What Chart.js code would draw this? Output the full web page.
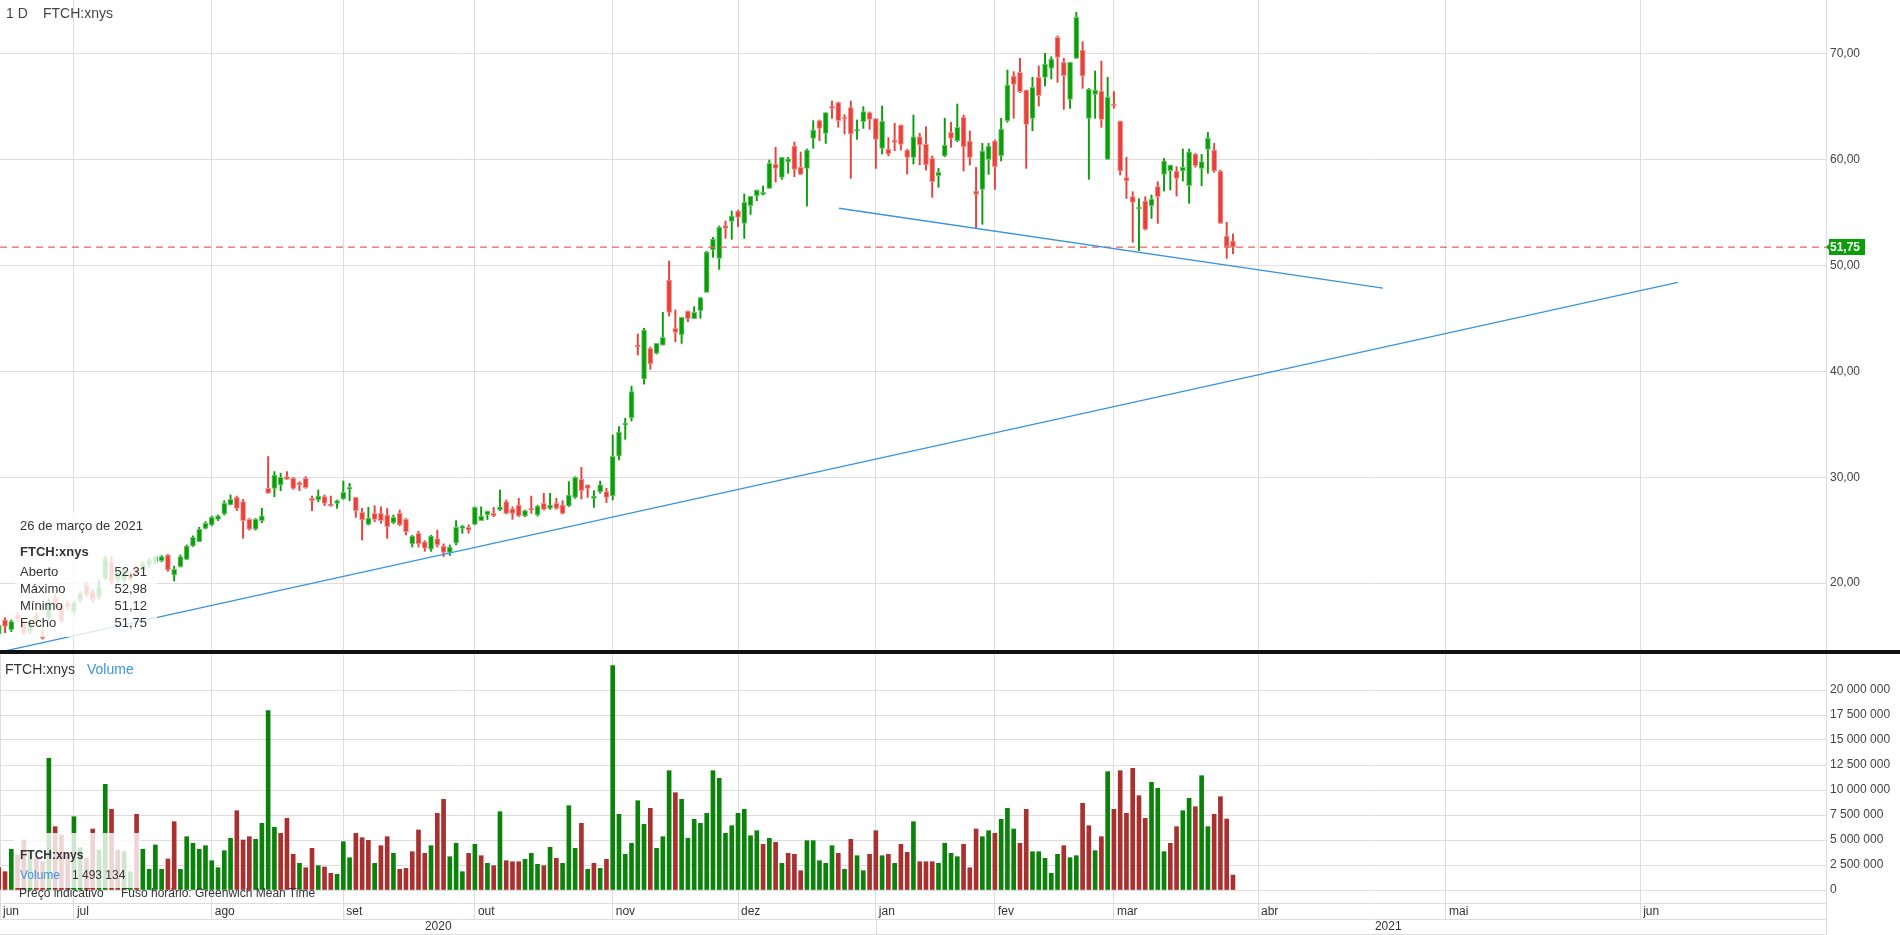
<!DOCTYPE html>
<html>
<head>
<meta charset="utf-8">
<script src="https://cdn.jsdelivr.net/npm/chart.js@4.4.1/dist/chart.umd.min.js"></script>
<style>
  body { margin: 0; background: #fff; font-family: "Liberation Sans", Arial, sans-serif; color: #333; }
  #wrap { position: relative; width: 1900px; height: 935px; overflow: hidden; }
  canvas { position: absolute; left: 0; }
  #price { top: 0; }
  #volume { top: 652px; }
  .sep { position: absolute; left: 0; top: 650px; width: 1900px; height: 4px; background: #111; }
  .t { position: absolute; white-space: nowrap; font-size: 14px; line-height: 16px; }
  .box { position: absolute; background: rgba(255,255,255,0.8); }
  .row { position: absolute; left: 5px; width: 127px; font-size: 13px; line-height: 16px; }
  .row span { position: absolute; right: 0; }
  .blue { color: #3d95d8; }
</style>
</head>
<body>
<div id="wrap">
  <canvas id="price" width="1900" height="652"></canvas>
  <canvas id="volume" width="1900" height="283"></canvas>
  <div class="sep"></div>

  <div class="t" style="left:6px;top:5px;color:#444">1 D</div>
  <div class="t" style="left:43px;top:5px;color:#444">FTCH:xnys</div>

  <div class="box" style="left:15px;top:512px;width:142px;height:125px">
    <div class="row" style="top:6px">26 de março de 2021</div>
    <div class="row" style="top:32px;font-weight:bold">FTCH:xnys</div>
    <div class="row" style="top:52px">Aberto<span>52,31</span></div>
    <div class="row" style="top:69px">Máximo<span>52,98</span></div>
    <div class="row" style="top:86px">Mínimo<span>51,12</span></div>
    <div class="row" style="top:103px">Fecho<span>51,75</span></div>
  </div>

  <div class="t" style="left:5px;top:661px">FTCH:xnys</div>
  <div class="t blue" style="left:87px;top:661px">Volume</div>

  <div class="box" style="left:14px;top:833px;width:126px;height:55px">
    <div class="t" style="left:6px;top:14px;font-size:12px;font-weight:bold">FTCH:xnys</div>
    <div class="t blue" style="left:6px;top:34px;font-size:12px">Volume</div>
    <div class="t" style="left:58px;top:34px;font-size:12px">1 493 134</div>
  </div>
  <div class="t" style="left:19px;top:886px;font-size:12px;line-height:14px">Preço indicativo</div>
  <div class="t" style="left:121px;top:886px;font-size:12px;line-height:14px">Fuso horário: Greenwich Mean Time</div>
</div>

<script>
// first bar is index -1 (half hidden at the left edge), last one is 26 Mar 2021
const xStart = -1;

const openP = [
  15.2,16.5,15.6,17.0,16.2,15.4,16.9,15.0,16.7,18.55,
  17.8,18.1,17.3,18.4,19.8,19.2,18.7,20.4,22.0,20.3,
  20.3,20.85,21.4,21.2,21.7,22.0,22.12,22.65,20.76,21.55,
  22.24,23.5,23.9,25.17,25.48,26.02,26.53,27.38,28.1,27.69,
  26.02,25.08,25.9,28.95,28.95,29.27,30.05,29.9,29.49,29.9,
  28.0,27.85,28.16,27.47,27.53,27.94,28.86,28.1,26.68,25.55,
  26.58,26.58,26.43,25.7,26.58,26.02,23.7,24.7,23.9,23.2,
  24.2,23.5,22.9,23.8,25.17,25.26,25.55,25.9,26.43,26.58,
  26.9,27.69,27.02,27.37,26.33,27.06,26.43,27.53,27.06,27.53,
  27.37,27.28,28.1,29.8,29.27,27.99,28.64,28.64,28.22,32.0,
  34.94,35.6,42.49,39.3,42.18,41.71,42.49,48.64,44.07,43.44,
  45.71,44.98,45.74,47.47,51.47,50.68,53.77,54.18,55.16,53.99,
  55.66,56.61,56.73,57.3,59.6,58.34,59.79,61.3,59.29,59.19,
  62.03,63.7,62.5,65.08,65.4,64.01,64.93,62.75,63.6,64.45,
  63.89,61.08,61.02,61.87,63.29,60.92,60.23,62.18,61.49,60.13,
  58.5,60.36,62.59,61.8,64.01,61.77,57.05,57.2,60.04,61.77,
  60.39,63.69,67.92,68.26,66.59,63.92,67.79,67.79,68.64,71.57,
  69.21,65.71,69.59,70.37,63.92,66.18,66.5,60.04,65.27,63.66,
  58.31,56.51,55.38,56.1,55.66,57.46,58.62,58.97,58.94,58.94,
  57.55,60.54,59.19,60.99,60.92,58.94,52.79,52.31
];
const highP = [
  16.2,16.7,16.5,17.2,16.4,16.5,17.2,15.6,18.5,18.9,
  18.0,18.3,18.3,19.2,20.1,19.4,20.3,22.55,22.5,21.2,
  21.4,21.1,21.6,22.0,22.3,22.6,22.6,22.7,21.6,22.65,
  23.6,24.45,25.27,25.8,26.33,26.43,27.78,28.32,28.22,27.9,
  26.1,26.1,27.06,31.95,30.53,30.37,30.53,29.99,29.58,30.05,
  28.22,28.79,28.32,28.22,27.85,29.64,29.42,28.1,27.06,27.15,
  27.3,27.2,27.05,26.43,26.9,26.1,24.5,24.9,24.0,24.5,
  25.0,23.7,23.6,25.9,25.45,25.5,27.2,27.2,26.8,27.15,
  28.79,27.85,27.2,28.0,26.9,28.22,27.37,28.48,28.48,28.0,
  27.78,29.58,30.05,30.93,29.27,28.73,29.64,28.95,33.99,34.78,
  35.57,38.6,43.53,44.07,42.3,42.65,45.58,50.43,45.8,45.11,
  45.71,46.12,46.98,51.35,52.67,53.74,54.21,55.16,55.25,56.77,
  56.54,57.14,57.52,59.98,61.18,60.23,60.23,61.68,60.73,61.02,
  63.7,63.76,64.45,65.55,65.46,64.26,65.55,63.76,65.02,64.52,
  63.89,65.08,62.09,63.44,63.29,60.99,64.23,62.5,63.13,60.36,
  59.19,63.92,63.54,65.27,64.23,62.72,59.28,61.55,61.55,61.87,
  63.92,68.48,68.33,69.59,66.59,67.79,68.86,70.06,69.74,71.7,
  69.59,69.21,73.93,71.16,66.75,68.39,69.33,67.79,66.44,63.66,
  60.23,56.98,56.32,56.51,56.67,57.93,60.13,59.5,59.35,61.02,
  61.02,60.6,60.51,62.59,61.55,59.03,54.09,52.98
];
const lowP = [
  14.9,15.3,15.4,16.3,15.1,15.2,16.2,14.7,16.5,17.6,
  16.3,17.5,17.1,18.2,18.7,18.2,18.5,20.3,19.9,20.1,
  20.1,20.2,20.7,21.0,21.5,21.8,22.0,21.1,20.19,21.5,
  22.2,23.45,23.9,25.1,25.4,25.9,26.43,27.38,26.84,24.23,
  25.0,25.0,25.7,28.48,28.16,28.73,29.8,28.85,28.73,28.95,
  26.84,27.69,27.3,27.25,27.06,27.9,27.78,26.2,24.06,25.48,
  25.8,25.65,24.22,25.6,25.4,24.54,23.4,23.4,23.0,23.0,
  23.4,22.5,22.6,23.6,24.7,24.7,25.5,25.9,26.0,26.27,
  26.84,26.52,26.02,26.27,26.27,26.58,26.33,26.9,26.96,26.96,
  26.52,27.22,28.0,27.94,28.1,27.15,28.48,27.6,27.85,31.63,
  33.58,35.3,41.55,38.8,40.2,41.64,42.49,45.23,42.81,42.65,
  44.7,44.98,45.01,47.47,50.78,49.64,52.57,52.48,53.68,52.57,
  54.84,56.13,56.67,57.3,57.9,58.15,58.72,58.4,58.62,55.63,
  61.08,61.81,61.55,63.92,63.07,62.44,58.25,61.93,62.97,62.88,
  59.19,60.55,60.36,60.86,60.92,58.66,59.6,59.51,59.03,56.45,
  57.39,60.29,61.17,61.71,58.94,59.5,53.58,53.9,58.62,57.2,
  59.88,63.54,63.92,66.34,59.19,62.75,65.08,66.97,67.63,67.32,
  64.77,64.86,69.59,66.75,58.15,63.92,63.06,60.04,64.86,58.56,
  56.35,52.2,51.41,53.36,54.46,53.99,57.05,57.14,56.57,57.99,
  55.88,59.3,57.55,58.72,58.81,53.99,50.68,51.12
];
const closeP = [
  16.0,15.9,16.35,16.5,15.25,16.0,16.5,14.8,18.2,17.9,
  16.45,17.7,18.1,19.0,18.9,18.4,19.6,22.3,20.1,21.07,
  21.2,20.35,20.85,21.86,22.17,22.5,22.49,21.23,21.3,22.49,
  23.5,24.32,25.08,25.64,26.21,26.34,27.53,27.91,27.06,25.9,
  25.08,26.02,26.34,28.48,30.2,29.99,29.8,28.95,29.27,29.0,
  27.78,28.22,27.53,27.3,27.78,28.57,29.05,26.84,25.96,26.11,
  26.02,25.9,25.33,26.2,25.48,24.85,24.44,23.7,23.3,24.44,
  23.6,22.9,23.4,25.26,25.38,25.0,27.15,26.33,26.8,26.33,
  27.2,26.58,26.58,26.33,26.84,26.9,27.28,26.96,27.37,27.06,
  26.58,28.32,29.99,28.73,28.95,28.22,29.27,28.1,31.97,34.27,
  35.09,38.1,42.34,43.91,40.7,42.65,43.22,45.58,43.69,45.11,
  44.98,45.58,46.98,51.28,52.51,53.61,53.52,54.69,54.56,55.98,
  56.54,57.14,56.92,59.66,59.19,60.23,60.1,59.1,58.62,60.92,
  62.81,62.97,64.45,64.86,63.7,63.89,62.44,62.81,64.55,63.82,
  61.93,63.63,60.55,61.65,61.46,60.23,62.18,61.4,59.51,57.93,
  58.81,61.4,62.03,63.06,61.24,60.23,56.73,60.83,61.3,59.35,
  62.91,67.07,67.13,66.44,63.35,66.85,66.06,69.05,69.52,69.68,
  67.95,69.21,73.46,67.92,66.66,66.59,63.82,65.9,65.08,58.94,
  57.99,55.98,55.5,53.42,56.29,56.51,59.88,59.5,58.24,59.28,
  60.76,59.44,59.82,62.03,58.94,53.99,51.79,51.75
];

// volume in millions, g/r = colour of the volume bar
const volM = [
  2.23,1.83,4.07,3.5,5.0,3.67,3.17,2.83,13.17,6.33,
  5.5,3.5,7.33,4.23,3.17,6.1,4.0,10.57,8.07,4.0,
  3.83,1.83,7.57,4.07,2.07,4.5,2.07,3.1,6.83,2.07,
  5.33,4.67,4.07,4.43,2.93,2.23,3.93,5.17,7.93,5.0,
  5.33,5.07,6.67,17.93,6.27,5.67,7.17,3.57,2.67,2.23,
  4.17,2.43,2.3,1.67,1.57,4.83,3.23,5.67,5.23,4.97,
  2.67,4.43,5.33,3.67,2.07,2.17,3.83,6.0,3.67,4.43,
  7.67,9.07,3.33,4.67,1.83,3.67,4.57,3.43,2.67,2.43,
  7.83,2.93,2.83,2.83,3.07,3.67,2.57,2.43,4.27,3.17,
  2.67,8.43,4.17,6.67,2.07,2.67,2.17,3.07,22.43,7.57,
  3.57,4.67,8.93,6.57,8.17,4.17,5.33,11.93,9.73,9.07,
  5.17,7.07,6.67,7.67,11.93,11.17,5.67,6.43,7.67,8.07,
  5.43,5.93,4.57,5.17,4.77,2.67,3.67,3.57,1.93,4.93,
  4.93,2.93,2.67,4.43,3.67,2.07,5.07,3.43,1.93,3.57,
  5.93,3.43,3.57,2.67,4.57,3.77,6.83,2.83,2.83,2.83,
  2.67,4.67,3.67,3.33,4.57,2.23,6.1,5.33,5.93,5.67,
  7.07,8.17,6.1,4.67,8.07,3.83,3.83,3.17,1.67,3.57,
  4.43,3.23,3.43,8.67,6.43,3.93,5.33,11.83,8.07,11.93,
  7.67,12.17,9.43,7.17,10.77,10.17,3.83,4.67,6.33,7.93,
  9.17,8.33,11.43,6.33,7.57,9.33,7.1,1.493134
];
const volDir = (
  "rrgrrgrrgr" + "rrggrrggrr" + "ggrggggrrg" + "ggggggggrr" + "rggggrrrgr" +
  "rgrrgggrrr" + "grrgrrrrrg" + "rrgggrgrgr" + "grrrgggrgr" + "gggrgrgrgg" +
  "ggggrgggrg" + "gggggggggg" + "ggrgrgrrrg" + "ggggrgrggr" + "rgrgrrgrrr" +
  "ggggrrrggr" + "gggrrggggg" + "rggrrgrgrr" + "rrrrgggrrg" + "grggrrrr"
).split('');

// month grid: bar index of the first trading day (calendar days after March)
const monthTicks = [11, 33, 54, 75, 97, 117, 139, 158, 177, 200, 230, 261];
const monthLabels = ['jul', 'ago', 'set', 'out', 'nov', 'dez', 'jan', 'fev', 'mar', 'abr', 'mai', 'jun'];
const firstLabel = 'jun';
const yearLabels = ['2020', '2021'];
const priceTicks = [20, 30, 40, 50, 60, 70];
const volTicks = [0, 2.5, 5, 7.5, 10, 12.5, 15, 17.5, 20];

// drawn trend lines (bar index, price)
const trendA = [{x: 133.1, y: 55.42}, {x: 219.95, y: 47.88}];
const trendB = [{x: -1, y: 13.45}, {x: 267.0, y: 48.42}];

const xMin = -0.8, xMax = 290.66;
const priceMin = 13.67, priceMax = 75.1;
const volMax = 23.5;

const GRID = '#dddddd';
const BLUE = '#3b94dc';
const C_UP = '#0a9f0a', C_DN = '#e8403a';
const C_UP_EDGE = '#6cc46c', C_DN_EDGE = '#f2908b';
const V_UP = '#0b830b', V_DN = '#a9302f';

Chart.defaults.font.family = '"Liberation Sans", Arial, sans-serif';
Chart.defaults.animation = false;

const up = k => closeP[k] >= openP[k];
const bodies = openP.map((o, k) => ({x: xStart + k, y: [o, closeP[k]]}));
const wicks = lowP.map((l, k) => ({x: xStart + k, y: [l, highP[k]]}));
const vols = volM.map((v, k) => ({x: xStart + k, y: v}));
const lastClose = closeP[closeP.length - 1];

const fmtPrice = v => v.toFixed(2).replace('.', ',');
const fmtVol = v => Math.round(v * 1e6).toString().replace(/\B(?=(\d{3})+(?!\d))/g, ' ');

// keep the plot area edge to edge: no label padding around the scales
function noPad(s) {
  s.paddingTop = 0; s.paddingBottom = 0; s.paddingLeft = 0; s.paddingRight = 0;
}

const lastLabel = {
  id: 'lastLabel',
  afterDraw(chart) {
    const ctx = chart.ctx;
    const y = Math.round(chart.scales.y.getPixelForValue(lastClose));
    const x0 = chart.chartArea.right;
    ctx.save();
    ctx.fillStyle = C_UP;
    ctx.fillRect(x0 + 3, y - 8, 36, 16);
    ctx.beginPath();
    ctx.moveTo(x0, y); ctx.lineTo(x0 + 4, y - 4); ctx.lineTo(x0 + 4, y + 4); ctx.closePath();
    ctx.fill();
    ctx.fillStyle = '#fff';
    ctx.font = 'bold 12px "Liberation Sans", Arial, sans-serif';
    ctx.textBaseline = 'middle';
    ctx.fillText(fmtPrice(lastClose), x0 + 4, y + 1);
    ctx.restore();
  }
};

new Chart(document.getElementById('price'), {
  type: 'bar',
  data: {
    datasets: [
      {type: 'line', data: trendA, borderColor: BLUE, borderWidth: 1.3, pointRadius: 0, order: 0},
      {type: 'line', data: trendB, borderColor: BLUE, borderWidth: 1.3, pointRadius: 0, order: 0},
      {type: 'line', data: [{x: xMin, y: lastClose}, {x: xMax, y: lastClose}],
       borderColor: '#e8625c', borderWidth: 1.2, borderDash: [7, 5], pointRadius: 0, order: 0},
      {data: bodies, grouped: false, categoryPercentage: 1, barPercentage: 1, maxBarThickness: 5,
       minBarLength: 1, borderWidth: 1, borderSkipped: false, order: 1,
       backgroundColor: c => up(c.dataIndex) ? C_UP : C_DN,
       borderColor: c => up(c.dataIndex) ? C_UP_EDGE : C_DN_EDGE},
      {data: wicks, grouped: false, categoryPercentage: 1, barPercentage: 1, maxBarThickness: 1.3, order: 2,
       backgroundColor: c => up(c.dataIndex) ? C_UP : C_DN}
    ]
  },
  options: {
    responsive: false,
    layout: {padding: 0},
    plugins: {legend: {display: false}, tooltip: {enabled: false}},
    scales: {
      x: {
        type: 'linear', min: xMin, max: xMax, offset: false,
        grid: {color: GRID, offset: false, drawTicks: false},
        border: {display: false},
        ticks: {display: false},
        afterBuildTicks: s => { s.ticks = monthTicks.map(v => ({value: v})); },
        afterFit: s => { s.height = 2; noPad(s); }
      },
      y: {
        position: 'right', min: priceMin, max: priceMax,
        grid: {color: GRID, drawTicks: false},
        border: {color: GRID},
        ticks: {padding: 4, color: '#444', font: {size: 12}, callback: v => fmtPrice(v)},
        afterBuildTicks: s => { s.ticks = priceTicks.map(v => ({value: v})); },
        afterFit: s => { s.width = 74; noPad(s); }
      }
    }
  },
  plugins: [lastLabel]
});

const axisRows = {
  id: 'axisRows',
  afterDraw(chart) {
    const ctx = chart.ctx;
    const right = chart.chartArea.right;
    const jan = Math.round(chart.scales.x.getPixelForValue(monthTicks[6])) + 0.5;
    ctx.save();
    ctx.strokeStyle = GRID;
    ctx.lineWidth = 1;
    ctx.beginPath();
    [251.5, 267.5, 282.5].forEach(y => { ctx.moveTo(0, y); ctx.lineTo(right, y); });
    ctx.moveTo(jan, 267); ctx.lineTo(jan, 283);
    ctx.moveTo(right + 0.5, 0); ctx.lineTo(right + 0.5, 283);
    ctx.stroke();
    ctx.fillStyle = '#333';
    ctx.font = '12px "Liberation Sans", Arial, sans-serif';
    ctx.textAlign = 'center';
    ctx.textBaseline = 'middle';
    ctx.fillText(yearLabels[0], jan / 2, 275);
    ctx.fillText(yearLabels[1], (jan + chart.width) / 2, 275);
    ctx.restore();
  }
};

const axisTicks = [xMin].concat(monthTicks);
const axisLabels = [firstLabel].concat(monthLabels);

new Chart(document.getElementById('volume'), {
  type: 'bar',
  data: {
    datasets: [{
      data: vols, grouped: false, categoryPercentage: 1, barPercentage: 1, maxBarThickness: 4,
      backgroundColor: c => volDir[c.dataIndex] === 'g' ? V_UP : V_DN
    }]
  },
  options: {
    responsive: false,
    layout: {padding: {top: 3}},
    plugins: {legend: {display: false}, tooltip: {enabled: false}},
    scales: {
      x: {
        type: 'linear', min: xMin, max: xMax, offset: false,
        grid: {color: GRID, offset: false, drawTicks: true, tickLength: 29, tickColor: GRID},
        border: {display: false},
        ticks: {align: 'start', labelOffset: 3, padding: -15, color: '#333', font: {size: 12},
                maxRotation: 0, autoSkip: false,
                callback: (v, i) => axisLabels[i]},
        afterBuildTicks: s => { s.ticks = axisTicks.map(v => ({value: v})); },
        afterFit: s => { s.height = 45; noPad(s); }
      },
      y: {
        position: 'right', min: 0, max: volMax,
        grid: {color: GRID, drawTicks: false},
        border: {color: GRID},
        ticks: {padding: 4, color: '#444', font: {size: 12}, callback: v => fmtVol(v)},
        afterBuildTicks: s => { s.ticks = volTicks.map(v => ({value: v})); },
        afterFit: s => { s.width = 74; noPad(s); }
      }
    }
  },
  plugins: [axisRows]
});
</script>
</body>
</html>
